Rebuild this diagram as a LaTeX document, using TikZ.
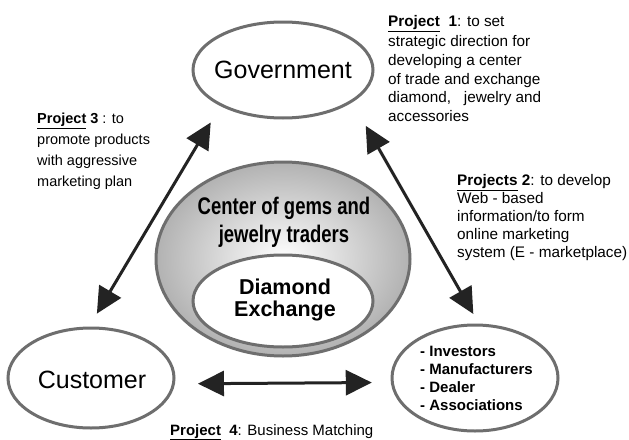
\documentclass[tikz,border=0pt]{standalone}
\usepackage{fontspec}
\setmainfont{Liberation Sans}
\usetikzlibrary{shapes.geometric,arrows.meta}
\definecolor{rim}{RGB}{110,110,110}
\definecolor{arr}{RGB}{35,35,35}
\definecolor{shadeout}{RGB}{178,178,178}
\tikzset{
  headtip/.tip={Triangle[length=26pt,width=25pt]},
  oval/.style={draw=rim, line width=3pt, ellipse, inner sep=0pt, fill=white},
  conn/.style={draw=arr, line width=3pt, headtip-headtip},
  lbl/.style={inner sep=0pt, align=left, anchor=north west},
  big/.style={font=\fontsize{25}{28}\selectfont, inner sep=0pt},
}
\newcommand{\pj}[1]{\textbf{\underline{Project}}\ \ \textbf{#1}}
\begin{document}
\begin{tikzpicture}[x=1pt,y=-1pt]
\useasboundingbox[fill=white] (0,0) rectangle (629,439);
% big shaded ellipse
\node[ellipse, draw=rim, line width=3pt, inner sep=0pt, minimum width=254pt, minimum height=194pt,
      inner color=white, outer color=shadeout] (center) at (283,259) {};
\node[oval, minimum width=180pt, minimum height=92pt] (dx) at (283,301) {};
\node[oval, minimum width=180pt, minimum height=96pt] (gov) at (283,70) {};
\node[oval, minimum width=166pt, minimum height=100pt] (cust) at (91,378) {};
\node[oval, minimum width=166pt, minimum height=106pt] (inv) at (475,378) {};
% texts
\node[big] (govt) at (gov) {Government};
\node[big] (custt) at (92,380) {Customer};
\node[inner sep=0pt, align=center, font=\fontsize{24}{28}\selectfont\bfseries] (centert) at (284,222)
  {\scalebox{0.77}[1]{Center of gems and}\\\scalebox{0.77}[1]{jewelry traders}};
\node[inner sep=0pt, align=center, font=\fontsize{21.5}{22}\selectfont\bfseries] (dxt) at (285,300)
  {Diamond\\Exchange};
\node[lbl, font=\fontsize{15}{18}\selectfont\bfseries] (invt) at (420,346)
  {- Investors\\- Manufacturers\\- Dealer\\- Associations};
% project labels
\node[lbl, font=\fontsize{15.3}{18.6}\selectfont] (p1) at (388,15)
  {\pj{1}: to set\\[2pt]strategic direction for\\developing a center\\of trade and exchange\\diamond,\ \ \ jewelry and\\accessories};
\node[lbl, font=\fontsize{14.5}{21}\selectfont] (p3) at (37,113)
  {\textbf{\underline{Project}} \textbf{3} : to\\promote products\\with aggressive\\marketing plan};
\node[lbl, font=\fontsize{15.3}{18}\selectfont] (p2) at (457,174)
  {\textbf{\underline{Projects}} \textbf{2}: to develop\\Web - based\\information/to form\\online marketing\\system (E - marketplace)};
\node[lbl, font=\fontsize{15}{18}\selectfont] (p4) at (170,424)
  {\pj{4}: Business Matching};
% connectors
\draw[conn, shorten <=19pt, shorten >=15pt] (gov.210) -- (cust.92);
\draw[conn, shorten <=27pt, shorten >=11pt] (gov.335.5) -- (inv.86);
\draw[conn, shorten <=23pt, shorten >=19pt] (cust.356.5) -- (inv.183.5);
\end{tikzpicture}
\end{document}
